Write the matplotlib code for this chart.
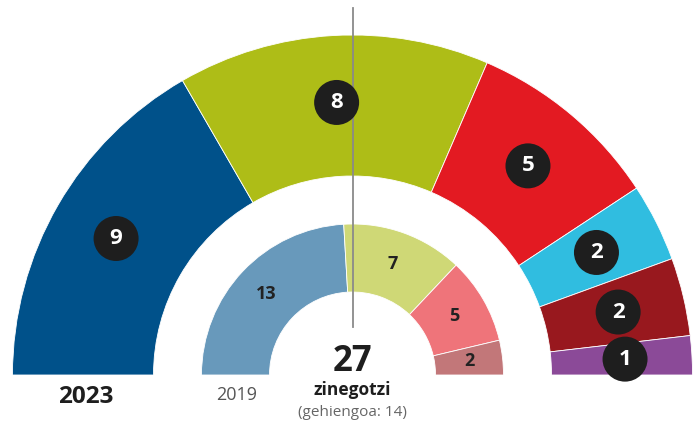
import numpy as np
import matplotlib.pyplot as plt
from matplotlib.patches import Wedge, Circle

plt.rcParams['font.family'] = ['Open Sans', 'DejaVu Sans']

# 2023 (outer ring)
seats_2023 = [9, 8, 5, 2, 2, 1]
colors_2023 = ["#00518a", "#aebd17", "#e31a22", "#30bde0", "#98181e", "#8b4a98"]

# 2019 (inner ring)
seats_2019 = [13, 7, 5, 2]
colors_2019 = ["#6899bb", "#cfd876", "#ef747a", "#c27779"]

total = 27
majority = 14

W, H = 693, 424
fig = plt.figure(figsize=(W / 100, H / 100), dpi=100)
ax = fig.add_axes([0, 0, 1, 1])
ax.set_xlim(0, W)
ax.set_ylim(0, H)
ax.set_aspect("equal")
ax.axis("off")

cx, cy = 352.5, H - 375


def ring(seats, colors, r_out, r_in):
    angles = []
    start = 180.0
    for n, c in zip(seats, colors):
        span = n / total * 180.0
        ax.add_patch(Wedge((cx, cy), r_out, start - span, start, width=r_out - r_in,
                           facecolor=c, edgecolor="white", linewidth=0.6))
        angles.append(start - span / 2)
        start -= span
    return angles


mid_outer = ring(seats_2023, colors_2023, 340, 199)
mid_inner = ring(seats_2019, colors_2019, 151, 83)

# badges on the outer ring
for n, a in zip(seats_2023, mid_outer):
    t = np.radians(a)
    x, y = cx + 273 * np.cos(t), cy + 273 * np.sin(t)
    ax.add_patch(Circle((x, y), 22.5, facecolor="#1e1e1e", edgecolor="none", zorder=3))
    ax.text(x, y, str(n), color="white", fontsize=16, fontweight="bold",
            ha="center", va="center", zorder=4)

# plain numbers on the inner ring
for n, a in zip(seats_2019, mid_inner):
    t = np.radians(a)
    ax.text(cx + 118 * np.cos(t), cy + 118 * np.sin(t), str(n), color="#222222",
            fontsize=13, fontweight="bold", ha="center", va="center")

# majority line
ax.plot([cx, cx], [H - 8, H - 327], color="#8a8a8a", linewidth=1.3, zorder=2)

ax.text(86, H - 397, "2023", fontsize=17.5, fontweight="bold", color="#1e1e1e",
        ha="center", va="center")
ax.text(237, H - 395, "2019", fontsize=13, color="#555555", ha="center", va="center")
ax.text(cx, H - 362, str(total), fontsize=25, fontweight="bold", color="#1e1e1e",
        ha="center", va="center")
ax.text(cx, H - 390, "zinegotzi", fontsize=12.5, fontweight="bold", color="#1e1e1e",
        ha="center", va="center")
ax.text(cx, H - 412, f"(gehiengoa: {majority})", fontsize=11, color="#666666",
        ha="center", va="center")

fig.savefig("out.png", dpi=100)
